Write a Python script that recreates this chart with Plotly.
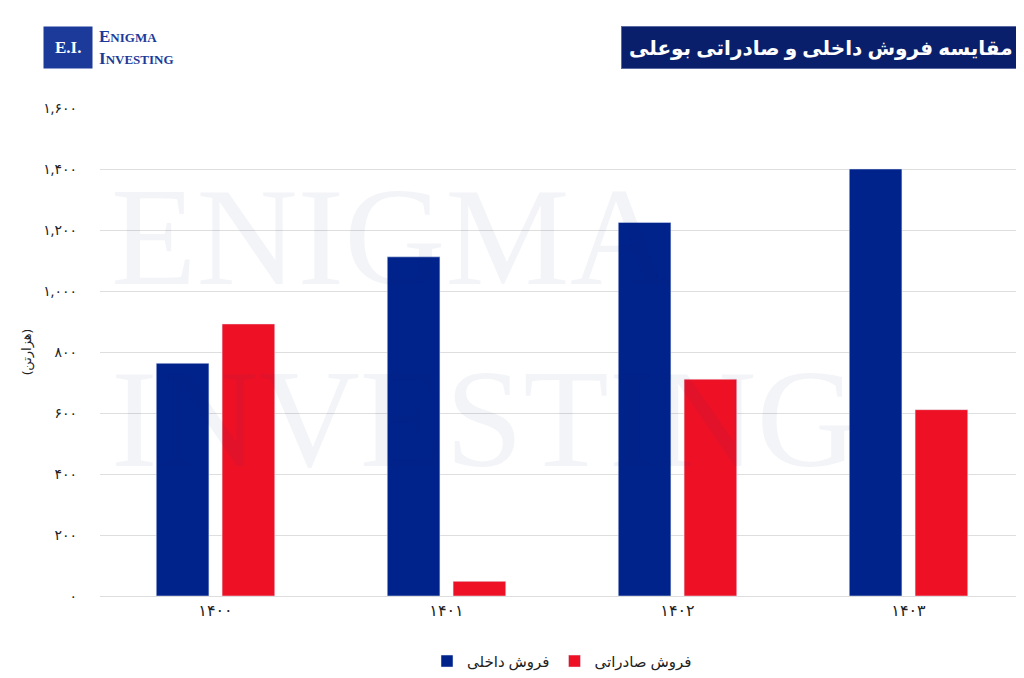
import plotly.graph_objects as go

years = ["۱۴۰۰", "۱۴۰۱", "۱۴۰۲", "۱۴۰۳"]
domestic = [763, 1112, 1225, 1400]
export = [892, 48, 711, 611]
tick_vals = [0, 200, 400, 600, 800, 1000, 1200, 1400, 1600]
tick_text = ["۰", "۲۰۰", "۴۰۰", "۶۰۰", "۸۰۰", "۱,۰۰۰", "۱,۲۰۰", "۱,۴۰۰", "۱,۶۰۰"]

fig = go.Figure()
fig.add_bar(x=years, y=domestic, name="فروش داخلی", marker_color="#00228B")
fig.add_bar(x=years, y=export, name="فروش صادراتی", marker_color="#EE1126")

fig.update_layout(
    width=1024, height=678, plot_bgcolor="white", paper_bgcolor="white",
    margin=dict(l=92, r=8, t=100, b=71),
    barmode="group", bargap=0.43, bargroupgap=0.2,
    font=dict(family="Noto Sans, DejaVu Sans", color="#222"),
    legend=dict(orientation="h", x=0.5, xanchor="center", y=-0.1, yanchor="top",
                font=dict(size=15), traceorder="normal"),
    xaxis=dict(tickfont=dict(size=16), showline=True, linecolor="#ddd"),
    yaxis=dict(range=[0, 1600], tickvals=tick_vals, ticktext=tick_text,
               gridcolor="#dedede", tickfont=dict(size=14), zeroline=False,
               ticklabelstandoff=22,
               title=dict(text="(هزارتن)", font=dict(size=13), standoff=8)),
)
fig.add_annotation(xref="paper", yref="paper", x=0.01, y=0.55, xanchor="left", text="ENIGMA<br>INVESTING",
                   showarrow=False, align="left",
                   font=dict(family="Liberation Serif", size=140, color="rgba(0,30,120,0.05)"))
fig.add_annotation(xref="paper", yref="paper", x=0.997, y=1.123, xanchor="right", yanchor="middle",
                   text="<b>مقایسه فروش داخلی و صادراتی بوعلی</b>", showarrow=False,
                   font=dict(size=20, color="white"), bgcolor="#0A1F6B", bordercolor="#5a6aa0",
                   borderwidth=1, borderpad=7)
fig.add_annotation(xref="paper", yref="paper", x=-0.062, y=1.123, xanchor="left", yanchor="middle",
                   text="<b>E.I.</b>", showarrow=False, font=dict(family="Liberation Serif", size=17, color="white"),
                   bgcolor="#1C3A9A", borderpad=11)
fig.add_annotation(xref="paper", yref="paper", x=-0.003, y=1.123, xanchor="left", yanchor="middle",
                   text="<b>E<span style='font-size:13px'>NIGMA</span><br>I<span style='font-size:13px'>NVESTING</span></b>",
                   showarrow=False, align="left",
                   font=dict(family="Liberation Serif", size=17, color="#1C3A9A"))
fig.write_html("out.html")
